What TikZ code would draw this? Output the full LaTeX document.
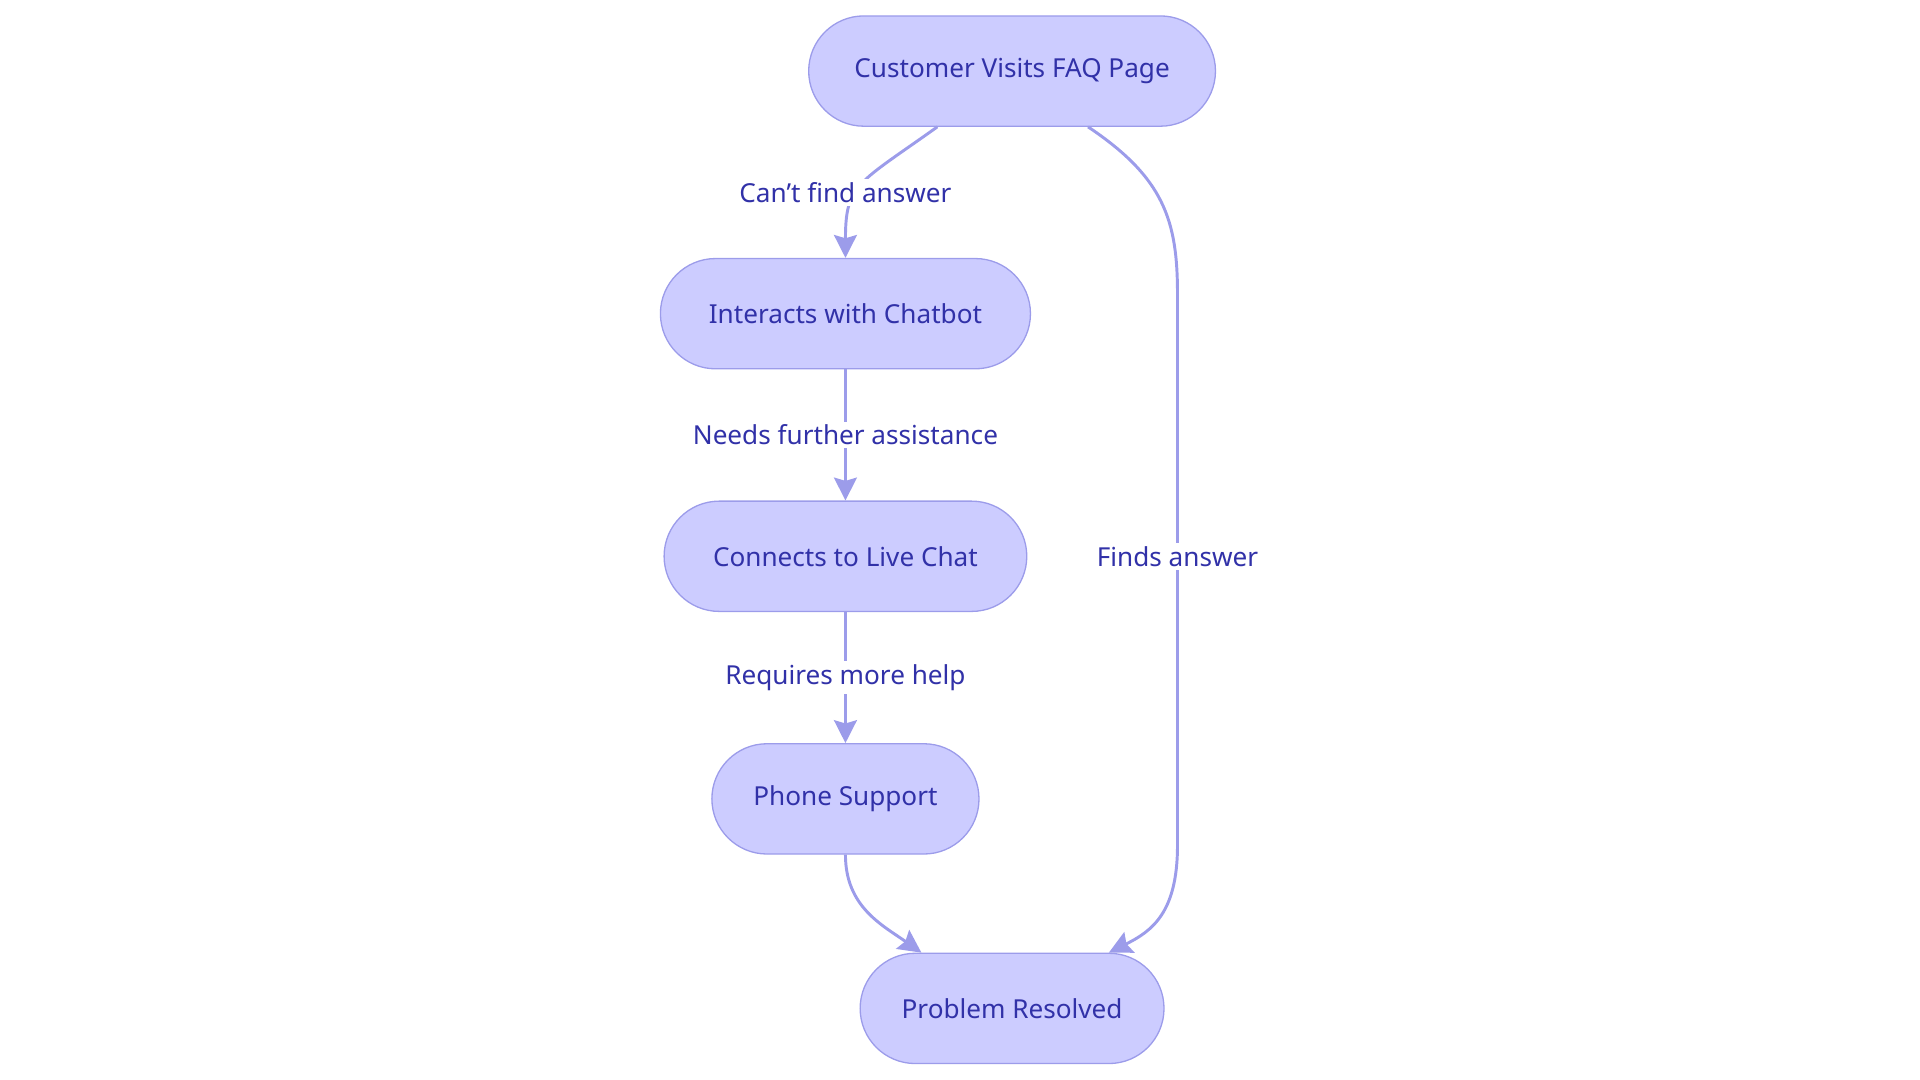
\documentclass[tikz,border=0pt]{standalone}
\usepackage{fontspec}
\setmainfont{Noto Sans}
\usetikzlibrary{arrows.meta}
\definecolor{nfill}{HTML}{CCCCFF}
\definecolor{nline}{HTML}{9C9CEA}
\definecolor{ntext}{HTML}{3131A8}
\begin{document}
\begin{tikzpicture}[x=0.75pt,y=-0.75pt,
  box/.style={draw=nline,fill=nfill,text=ntext,rounded corners=33.75pt,minimum height=67.5pt,inner sep=0pt,font=\fontsize{16}{19}\selectfont,line width=0.8pt},
  lab/.style={fill=white,text=ntext,font=\fontsize{16}{19}\selectfont,inner sep=2pt},
  conn/.style={draw=nline,line width=1.8pt,-{Stealth[length=14pt,width=14pt,inset=2pt]}}]
\useasboundingbox (0,0) rectangle (1567,881);
\node[box,minimum width=249pt] (faq) at (826,58) {Customer Visits FAQ Page};
\node[box,minimum width=226.5pt] (bot) at (690,256) {Interacts with Chatbot};
\node[box,minimum width=222pt] (live) at (690,454) {Connects to Live Chat};
\node[box,minimum width=163.5pt] (phone) at (690,652) {Phone Support};
\node[box,minimum width=186pt] (res) at (826,823) {Problem Resolved};
\coordinate (r1) at (961,240);
\coordinate (r2) at (961,690);
\draw[conn] (faq.south -| 765,0) .. controls (700,150) and (690,150) .. (bot.north);
\draw[conn] (bot) -- (live);
\draw[conn] (live) -- (phone);
\draw[conn] (phone.south) .. controls (690,740) and (720,755) .. (res.north -| 752,0);
\draw[conn] (faq.south -| 888,0) .. controls (950,145) and (961,180) .. (r1) -- (r2) .. controls (961,745) and (940,760) .. (res.north -| 905,0);
\node[lab] (l1) at (690,157) {Can’t find answer};
\node[lab] (l2) at (690,355) {Needs further assistance};
\node[lab] (l3) at (690,553) {Requires more help};
\node[lab] (l4) at (961,454) {Finds answer};
\end{tikzpicture}
\end{document}
